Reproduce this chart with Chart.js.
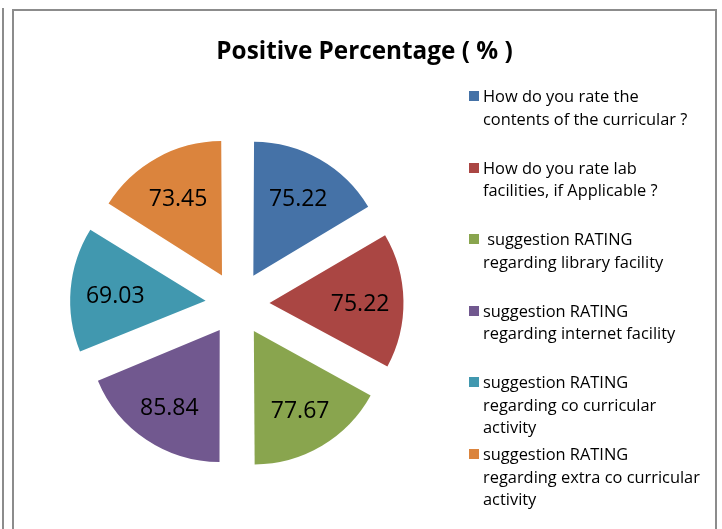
<!DOCTYPE html>
<html>
<head>
<meta charset="utf-8">
<script src="https://cdn.jsdelivr.net/npm/chart.js@4"></script>
<style>
  html, body { margin: 0; padding: 0; background: #fff; }
  #wrap { position: relative; width: 722px; height: 529px; overflow: hidden; background: #fff; }
  #c { position: absolute; left: 0; top: 0; }
  .vline { position: absolute; left: 2px; top: 8px; width: 2px; height: 530px; background: #8c8c8c; }
  .frame { position: absolute; left: 12px; top: 9px; width: 701px; height: 540px; border: 2px solid #8c8c8c; border-bottom: none; }
  #title { position: absolute; left: 12px; width: 705px; top: 33px; text-align: center;
           font-family: "Open Sans", sans-serif; font-weight: bold; font-size: 24.3px; color: #000; }
  .item { position: absolute; left: 469px; font-family: "Open Sans", sans-serif; font-size: 16.4px;
          line-height: 22.5px; color: #000; }
  .item .sw { position: absolute; left: 0; top: 6px; width: 10px; height: 10px; }
  .item .tx { position: absolute; left: 14px; top: 0; white-space: pre; }
</style>
</head>
<body>
<div id="wrap">
  <div class="vline"></div>
  <div class="frame"></div>
  <canvas id="c" width="722" height="529"></canvas>
  <div id="title"></div>
  <div id="legend"></div>
</div>
<script>
const titleText = "Positive Percentage ( % )";
const categories = [
  ["How do you rate the", "contents of the curricular ?"],
  ["How do you rate lab", "facilities, if Applicable ?"],
  [" suggestion RATING", "regarding library facility"],
  ["suggestion RATING", "regarding internet facility"],
  ["suggestion RATING", "regarding co curricular", "activity"],
  ["suggestion RATING", "regarding extra co curricular", "activity"]
];
const values = [75.22, 75.22, 77.67, 85.84, 69.03, 73.45];
const colors = ["#4572A7", "#AA4643", "#89A54E", "#71588F", "#4198AF", "#DB843D"];

document.getElementById('title').textContent = titleText;

// HTML legend
const legend = document.getElementById('legend');
categories.forEach((lines, i) => {
  const d = document.createElement('div');
  d.className = 'item';
  d.style.top = (85 + i * 71.6) + 'px';
  const sw = document.createElement('div');
  sw.className = 'sw';
  sw.style.background = colors[i];
  const tx = document.createElement('div');
  tx.className = 'tx';
  tx.textContent = lines.join('\n');
  d.appendChild(sw); d.appendChild(tx);
  legend.appendChild(d);
});

const EXPLODE = 128; // Chart.js draws offset/4 as the radial shift
const valueLabels = {
  id: 'valueLabels',
  afterDatasetsDraw(chart) {
    const ctx = chart.ctx;
    const meta = chart.getDatasetMeta(0);
    ctx.save();
    ctx.font = '23px "Open Sans", sans-serif';
    ctx.fillStyle = '#000';
    ctx.textAlign = 'center';
    ctx.textBaseline = 'middle';
    meta.data.forEach((arc, i) => {
      const p = arc.getProps(['x', 'y', 'startAngle', 'endAngle', 'outerRadius'], true);
      const mid = (p.startAngle + p.endAngle) / 2;
      const r = EXPLODE / 4 + p.outerRadius * 0.7;
      ctx.fillText(values[i].toFixed(2), p.x + Math.cos(mid) * r, p.y + Math.sin(mid) * r + 3);
    });
    ctx.restore();
  }
};

new Chart(document.getElementById('c'), {
  type: 'pie',
  data: {
    labels: categories.map(l => l.join(' ')),
    datasets: [{
      data: values,
      backgroundColor: colors,
      borderWidth: 0,
      offset: EXPLODE,
      radius: 129.5
    }]
  },
  options: {
    responsive: false,
    animation: false,
    layout: { padding: { left: 74.5, top: 140.5, right: 321.5, bottom: 62.5 } },
    plugins: { legend: { display: false }, title: { display: false }, tooltip: { enabled: false } }
  },
  plugins: [valueLabels]
});
</script>
</body>
</html>
